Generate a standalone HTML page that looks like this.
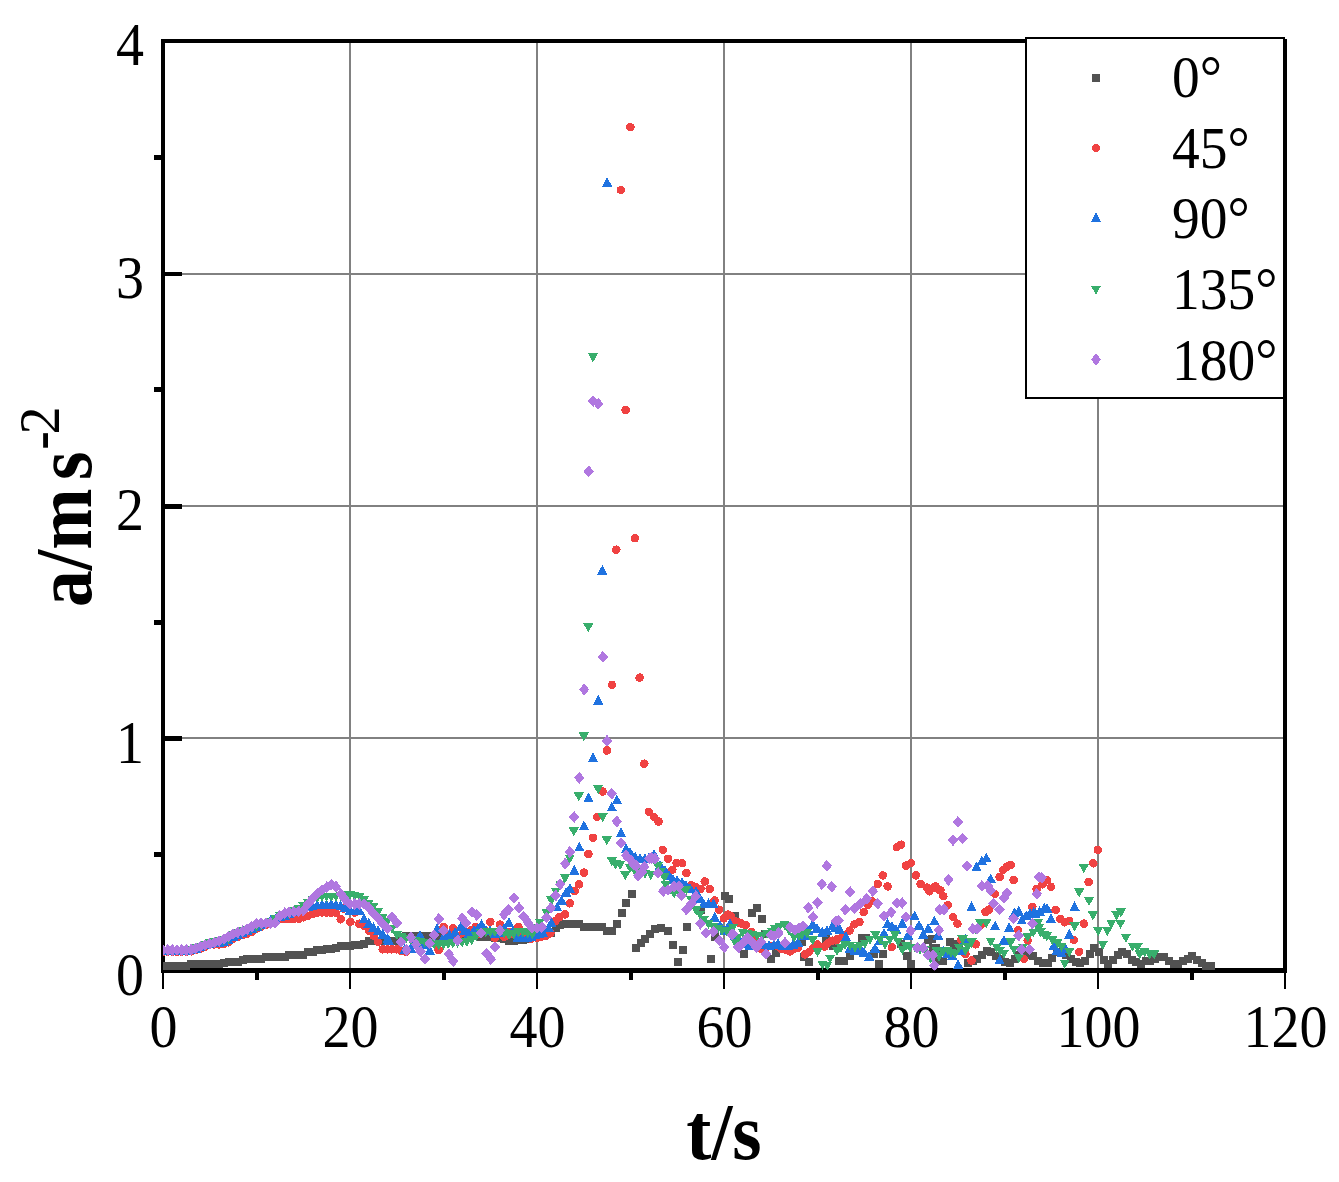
<!DOCTYPE html>
<html><head><meta charset="utf-8"><style>
html,body{margin:0;padding:0;background:#fff;}
svg{display:block;}
text{font-family:"Liberation Serif",serif;}
</style></head><body>
<svg width="1339" height="1182" viewBox="0 0 1339 1182">
<defs>
<rect id="sq" x="-4" y="-4" width="8" height="8" fill="#525252"/>
<circle id="ci" r="4.3" fill="#F04242"/>
<path id="tu" d="M0 -5.2 L5.2 4.5 L-5.2 4.5 Z" fill="#1F72E0"/>
<path id="td" d="M-5.2 -4.5 L5.2 -4.5 L0 4.7 Z" fill="#38AE6C"/>
<path id="di" d="M0 -5.8 L5.3 0 L0 5.8 L-5.3 0 Z" fill="#B077E0"/>
</defs>
<rect width="1339" height="1182" fill="#fff"/>
<g shape-rendering="crispEdges">
<rect x="349.0" y="41" width="2" height="930" fill="#818181"/>
<rect x="536.0" y="41" width="2" height="930" fill="#818181"/>
<rect x="723.0" y="41" width="2" height="930" fill="#818181"/>
<rect x="910.0" y="41" width="2" height="930" fill="#818181"/>
<rect x="1097.0" y="41" width="2" height="930" fill="#818181"/>
<rect x="163" y="273" width="1122" height="2" fill="#818181"/>
<rect x="163" y="505" width="1122" height="2" fill="#818181"/>
<rect x="163" y="737" width="1122" height="2" fill="#818181"/>
</g>
<g shape-rendering="crispEdges">
<rect x="162.2" y="973" width="1.6" height="16" fill="#000"/>
<rect x="349.2" y="973" width="1.6" height="16" fill="#000"/>
<rect x="536.2" y="973" width="1.6" height="16" fill="#000"/>
<rect x="723.2" y="973" width="1.6" height="16" fill="#000"/>
<rect x="910.2" y="973" width="1.6" height="16" fill="#000"/>
<rect x="1097.2" y="973" width="1.6" height="16" fill="#000"/>
<rect x="1284.2" y="973" width="1.6" height="16" fill="#000"/>
<rect x="254.5" y="973" width="4" height="7" fill="#000"/>
<rect x="441.5" y="973" width="4" height="7" fill="#000"/>
<rect x="628.5" y="973" width="4" height="7" fill="#000"/>
<rect x="815.5" y="973" width="4" height="7" fill="#000"/>
<rect x="1002.5" y="973" width="4" height="7" fill="#000"/>
<rect x="1189.5" y="973" width="4" height="7" fill="#000"/>
<rect x="165" y="272" width="17" height="4" fill="#000"/>
<rect x="165" y="504" width="17" height="5" fill="#000"/>
<rect x="165" y="736" width="17" height="5" fill="#000"/>
<rect x="154" y="852.4" width="7" height="4.8" fill="#000"/>
<rect x="154" y="619.9" width="7" height="4.8" fill="#000"/>
<rect x="154" y="387.4" width="7" height="4.8" fill="#000"/>
<rect x="154" y="154.8" width="7" height="4.8" fill="#000"/>
<rect x="161" y="39" width="4" height="934" fill="#000"/>
<rect x="161" y="968" width="1126" height="5" fill="#000"/>
<rect x="161" y="39" width="1126" height="4" fill="#000"/>
</g>
<clipPath id="pc"><rect x="163" y="41" width="1122" height="929.5"/></clipPath>
<g shape-rendering="crispEdges" clip-path="url(#pc)">
<use href="#sq" x="163.0" y="966.0"/><use href="#sq" x="167.7" y="966.0"/><use href="#sq" x="172.4" y="966.0"/><use href="#sq" x="177.0" y="966.0"/><use href="#sq" x="181.7" y="966.0"/><use href="#sq" x="186.4" y="965.9"/><use href="#sq" x="191.1" y="964.3"/><use href="#sq" x="195.7" y="964.0"/><use href="#sq" x="200.4" y="964.0"/><use href="#sq" x="205.1" y="964.0"/><use href="#sq" x="209.8" y="964.0"/><use href="#sq" x="214.4" y="964.0"/><use href="#sq" x="219.1" y="964.0"/><use href="#sq" x="223.8" y="962.6"/><use href="#sq" x="228.5" y="962.0"/><use href="#sq" x="233.1" y="962.0"/><use href="#sq" x="237.8" y="962.0"/><use href="#sq" x="242.5" y="960.1"/><use href="#sq" x="247.2" y="959.0"/><use href="#sq" x="251.8" y="959.0"/><use href="#sq" x="256.5" y="959.0"/><use href="#sq" x="261.2" y="959.0"/><use href="#sq" x="265.9" y="957.4"/><use href="#sq" x="270.5" y="957.4"/><use href="#sq" x="275.2" y="957.4"/><use href="#sq" x="279.9" y="957.4"/><use href="#sq" x="284.6" y="957.4"/><use href="#sq" x="289.2" y="954.5"/><use href="#sq" x="293.9" y="954.5"/><use href="#sq" x="298.6" y="954.5"/><use href="#sq" x="303.3" y="954.5"/><use href="#sq" x="307.9" y="952.0"/><use href="#sq" x="312.6" y="952.0"/><use href="#sq" x="317.3" y="949.9"/><use href="#sq" x="322.0" y="949.6"/><use href="#sq" x="326.6" y="949.4"/><use href="#sq" x="331.3" y="949.1"/><use href="#sq" x="336.0" y="947.7"/><use href="#sq" x="340.7" y="946.0"/><use href="#sq" x="345.3" y="945.8"/><use href="#sq" x="350.0" y="945.5"/><use href="#sq" x="354.7" y="945.3"/><use href="#sq" x="359.4" y="945.1"/><use href="#sq" x="364.0" y="944.0"/><use href="#sq" x="368.7" y="941.3"/><use href="#sq" x="373.4" y="940.5"/><use href="#sq" x="378.1" y="940.5"/><use href="#sq" x="382.7" y="940.5"/><use href="#sq" x="387.4" y="940.5"/><use href="#sq" x="392.1" y="940.5"/><use href="#sq" x="396.8" y="940.5"/><use href="#sq" x="401.4" y="940.0"/><use href="#sq" x="406.1" y="936.0"/><use href="#sq" x="410.8" y="935.9"/><use href="#sq" x="415.5" y="935.8"/><use href="#sq" x="420.1" y="935.7"/><use href="#sq" x="424.8" y="935.6"/><use href="#sq" x="429.5" y="935.5"/><use href="#sq" x="434.2" y="935.5"/><use href="#sq" x="438.8" y="935.6"/><use href="#sq" x="443.5" y="935.7"/><use href="#sq" x="448.2" y="935.7"/><use href="#sq" x="452.9" y="935.8"/><use href="#sq" x="457.5" y="935.8"/><use href="#sq" x="462.2" y="935.9"/><use href="#sq" x="466.9" y="936.0"/><use href="#sq" x="471.6" y="936.1"/><use href="#sq" x="476.2" y="936.4"/><use href="#sq" x="480.9" y="936.7"/><use href="#sq" x="485.6" y="937.0"/><use href="#sq" x="490.3" y="937.4"/><use href="#sq" x="494.9" y="937.7"/><use href="#sq" x="499.6" y="938.0"/><use href="#sq" x="504.3" y="939.3"/><use href="#sq" x="509.0" y="940.7"/><use href="#sq" x="513.6" y="940.6"/><use href="#sq" x="518.3" y="940.1"/><use href="#sq" x="523.0" y="939.6"/><use href="#sq" x="527.7" y="939.0"/><use href="#sq" x="532.3" y="936.9"/><use href="#sq" x="537.0" y="936.3"/><use href="#sq" x="541.7" y="935.6"/><use href="#sq" x="546.4" y="934.4"/><use href="#sq" x="551.0" y="933.2"/><use href="#sq" x="555.7" y="927.8"/><use href="#sq" x="560.4" y="925.2"/><use href="#sq" x="565.1" y="924.0"/><use href="#sq" x="569.7" y="924.0"/><use href="#sq" x="574.4" y="924.0"/><use href="#sq" x="579.1" y="924.0"/><use href="#sq" x="583.8" y="926.6"/><use href="#sq" x="588.4" y="927.0"/><use href="#sq" x="593.1" y="927.0"/><use href="#sq" x="597.8" y="927.0"/><use href="#sq" x="602.4" y="927.4"/><use href="#sq" x="607.1" y="931.0"/><use href="#sq" x="611.8" y="931.0"/><use href="#sq" x="968.0" y="962.7"/><use href="#sq" x="972.7" y="961.1"/><use href="#sq" x="977.3" y="958.8"/><use href="#sq" x="982.0" y="954.6"/><use href="#sq" x="986.7" y="951.0"/><use href="#sq" x="991.4" y="952.1"/><use href="#sq" x="996.0" y="955.8"/><use href="#sq" x="1000.7" y="959.4"/><use href="#sq" x="1005.4" y="962.2"/><use href="#sq" x="1010.1" y="963.2"/><use href="#sq" x="1014.7" y="958.7"/><use href="#sq" x="1019.4" y="954.5"/><use href="#sq" x="1024.1" y="954.5"/><use href="#sq" x="1028.8" y="954.5"/><use href="#sq" x="1033.4" y="956.0"/><use href="#sq" x="1038.1" y="960.8"/><use href="#sq" x="1042.8" y="962.7"/><use href="#sq" x="1047.5" y="962.7"/><use href="#sq" x="1052.1" y="957.8"/><use href="#sq" x="1056.8" y="952.4"/><use href="#sq" x="1061.5" y="952.2"/><use href="#sq" x="1066.2" y="954.8"/><use href="#sq" x="1070.8" y="958.5"/><use href="#sq" x="1075.5" y="962.3"/><use href="#sq" x="1080.2" y="962.7"/><use href="#sq" x="1084.9" y="961.3"/><use href="#sq" x="1089.5" y="953.6"/><use href="#sq" x="1094.2" y="948.2"/><use href="#sq" x="1098.9" y="952.2"/><use href="#sq" x="1103.6" y="960.2"/><use href="#sq" x="1108.2" y="963.6"/><use href="#sq" x="1112.9" y="959.9"/><use href="#sq" x="1117.6" y="954.8"/><use href="#sq" x="1122.3" y="951.7"/><use href="#sq" x="1126.9" y="954.1"/><use href="#sq" x="1131.6" y="959.6"/><use href="#sq" x="1136.3" y="961.8"/><use href="#sq" x="1141.0" y="963.7"/><use href="#sq" x="1145.6" y="961.4"/><use href="#sq" x="1150.3" y="961.0"/><use href="#sq" x="1155.0" y="959.0"/><use href="#sq" x="1159.7" y="957.0"/><use href="#sq" x="1164.3" y="957.0"/><use href="#sq" x="1169.0" y="960.6"/><use href="#sq" x="1173.7" y="964.0"/><use href="#sq" x="1178.4" y="964.0"/><use href="#sq" x="1183.0" y="961.4"/><use href="#sq" x="1187.7" y="959.0"/><use href="#sq" x="1192.4" y="956.0"/><use href="#sq" x="1197.1" y="959.8"/><use href="#sq" x="1201.7" y="963.0"/><use href="#sq" x="1206.4" y="966.0"/><use href="#sq" x="1211.1" y="966.0"/><use href="#sq" x="617.4" y="924.0"/><use href="#sq" x="622.0" y="913.0"/><use href="#sq" x="626.3" y="903.3"/><use href="#sq" x="631.5" y="893.7"/><use href="#sq" x="635.5" y="947.7"/><use href="#sq" x="641.0" y="943.4"/><use href="#sq" x="644.7" y="939.1"/><use href="#sq" x="649.6" y="934.2"/><use href="#sq" x="654.5" y="929.3"/><use href="#sq" x="660.7" y="928.1"/><use href="#sq" x="668.0" y="930.6"/><use href="#sq" x="672.9" y="944.7"/><use href="#sq" x="677.8" y="961.8"/><use href="#sq" x="682.7" y="949.6"/><use href="#sq" x="687.0" y="926.9"/><use href="#sq" x="701.1" y="909.7"/><use href="#sq" x="711.0" y="958.8"/><use href="#sq" x="714.6" y="936.7"/><use href="#sq" x="725.0" y="895.6"/><use href="#sq" x="729.3" y="898.7"/><use href="#sq" x="735.2" y="916.0"/><use href="#sq" x="743.6" y="954.4"/><use href="#sq" x="752.4" y="912.5"/><use href="#sq" x="757.2" y="907.7"/><use href="#sq" x="762.1" y="919.3"/><use href="#sq" x="765.0" y="934.0"/><use href="#sq" x="770.9" y="959.2"/><use href="#sq" x="776.2" y="953.4"/><use href="#sq" x="802.0" y="941.7"/><use href="#sq" x="803.9" y="957.3"/><use href="#sq" x="808.8" y="962.1"/><use href="#sq" x="826.3" y="938.8"/><use href="#sq" x="833.1" y="945.6"/><use href="#sq" x="839.0" y="961.2"/><use href="#sq" x="843.5" y="961.2"/><use href="#sq" x="849.6" y="956.3"/><use href="#sq" x="861.9" y="937.9"/><use href="#sq" x="865.6" y="937.9"/><use href="#sq" x="874.1" y="953.9"/><use href="#sq" x="882.7" y="953.9"/><use href="#sq" x="879.0" y="963.7"/><use href="#sq" x="901.1" y="944.0"/><use href="#sq" x="907.3" y="956.3"/><use href="#sq" x="910.9" y="963.7"/><use href="#sq" x="928.1" y="940.4"/><use href="#sq" x="935.5" y="947.7"/><use href="#sq" x="937.9" y="958.8"/><use href="#sq" x="931.5" y="939.2"/><use href="#sq" x="933.0" y="948.0"/><use href="#sq" x="943.3" y="961.4"/><use href="#sq" x="953.7" y="943.6"/><use href="#sq" x="950.0" y="942.0"/><use href="#sq" x="955.0" y="945.0"/><use href="#sq" x="959.0" y="947.0"/><use href="#sq" x="942.0" y="961.0"/>
<use href="#ci" x="163.0" y="951.6"/><use href="#ci" x="167.7" y="951.6"/><use href="#ci" x="172.4" y="951.6"/><use href="#ci" x="177.0" y="951.6"/><use href="#ci" x="181.7" y="951.6"/><use href="#ci" x="186.4" y="951.6"/><use href="#ci" x="191.1" y="951.3"/><use href="#ci" x="195.7" y="950.2"/><use href="#ci" x="200.4" y="948.6"/><use href="#ci" x="205.1" y="946.5"/><use href="#ci" x="209.8" y="944.5"/><use href="#ci" x="214.4" y="944.4"/><use href="#ci" x="219.1" y="944.4"/><use href="#ci" x="223.8" y="943.6"/><use href="#ci" x="228.5" y="942.2"/><use href="#ci" x="233.1" y="939.0"/><use href="#ci" x="237.8" y="936.6"/><use href="#ci" x="242.5" y="934.9"/><use href="#ci" x="247.2" y="933.6"/><use href="#ci" x="251.8" y="931.6"/><use href="#ci" x="256.5" y="928.6"/><use href="#ci" x="261.2" y="926.6"/><use href="#ci" x="265.9" y="924.6"/><use href="#ci" x="270.5" y="922.7"/><use href="#ci" x="275.2" y="920.8"/><use href="#ci" x="279.9" y="919.2"/><use href="#ci" x="284.6" y="919.1"/><use href="#ci" x="289.2" y="919.1"/><use href="#ci" x="293.9" y="919.0"/><use href="#ci" x="298.6" y="918.8"/><use href="#ci" x="303.3" y="917.3"/><use href="#ci" x="307.9" y="915.7"/><use href="#ci" x="312.6" y="914.2"/><use href="#ci" x="317.3" y="912.6"/><use href="#ci" x="322.0" y="912.5"/><use href="#ci" x="326.6" y="912.7"/><use href="#ci" x="331.3" y="912.8"/><use href="#ci" x="336.0" y="913.0"/><use href="#ci" x="340.7" y="919.3"/><use href="#ci" x="343.6" y="908.6"/><use href="#ci" x="350.4" y="921.8"/><use href="#ci" x="354.8" y="912.5"/><use href="#ci" x="359.2" y="923.7"/><use href="#ci" x="364.0" y="926.0"/><use href="#ci" x="369.0" y="931.0"/><use href="#ci" x="373.8" y="935.9"/><use href="#ci" x="378.0" y="942.0"/><use href="#ci" x="382.7" y="949.3"/><use href="#ci" x="387.5" y="949.3"/><use href="#ci" x="391.7" y="949.3"/><use href="#ci" x="396.9" y="949.3"/><use href="#ci" x="401.5" y="951.0"/><use href="#ci" x="406.0" y="952.0"/><use href="#ci" x="438.7" y="950.0"/><use href="#ci" x="443.6" y="927.1"/><use href="#ci" x="448.0" y="934.0"/><use href="#ci" x="452.9" y="928.1"/><use href="#ci" x="458.0" y="936.0"/><use href="#ci" x="463.0" y="932.5"/><use href="#ci" x="468.0" y="936.0"/><use href="#ci" x="471.0" y="930.0"/><use href="#ci" x="475.7" y="927.1"/><use href="#ci" x="480.0" y="934.0"/><use href="#ci" x="485.0" y="930.0"/><use href="#ci" x="490.3" y="921.8"/><use href="#ci" x="494.7" y="937.8"/><use href="#ci" x="500.0" y="924.7"/><use href="#ci" x="504.4" y="936.8"/><use href="#ci" x="509.0" y="932.0"/><use href="#ci" x="513.0" y="934.0"/><use href="#ci" x="518.5" y="927.1"/><use href="#ci" x="523.0" y="934.0"/><use href="#ci" x="527.0" y="936.0"/><use href="#ci" x="531.2" y="938.8"/><use href="#ci" x="537.0" y="937.8"/><use href="#ci" x="541.0" y="937.0"/><use href="#ci" x="546.0" y="936.0"/><use href="#ci" x="550.4" y="933.4"/><use href="#ci" x="555.3" y="921.3"/><use href="#ci" x="559.2" y="917.4"/><use href="#ci" x="565.0" y="914.5"/><use href="#ci" x="569.9" y="903.3"/><use href="#ci" x="574.7" y="891.1"/><use href="#ci" x="579.1" y="884.3"/><use href="#ci" x="584.0" y="872.6"/><use href="#ci" x="588.5" y="854.0"/><use href="#ci" x="593.0" y="837.8"/><use href="#ci" x="597.1" y="817.0"/><use href="#ci" x="602.7" y="791.6"/><use href="#ci" x="606.9" y="750.5"/><use href="#ci" x="612.0" y="684.9"/><use href="#ci" x="616.3" y="549.7"/><use href="#ci" x="620.9" y="190.0"/><use href="#ci" x="625.7" y="410.1"/><use href="#ci" x="630.4" y="127.2"/><use href="#ci" x="634.9" y="538.2"/><use href="#ci" x="639.6" y="677.6"/><use href="#ci" x="644.3" y="763.7"/><use href="#ci" x="648.9" y="811.9"/><use href="#ci" x="654.0" y="817.0"/><use href="#ci" x="658.5" y="821.5"/><use href="#ci" x="662.8" y="849.8"/><use href="#ci" x="668.0" y="858.8"/><use href="#ci" x="672.3" y="869.9"/><use href="#ci" x="676.6" y="863.1"/><use href="#ci" x="682.1" y="863.1"/><use href="#ci" x="686.4" y="872.9"/><use href="#ci" x="691.3" y="885.2"/><use href="#ci" x="695.5" y="887.0"/><use href="#ci" x="700.5" y="888.9"/><use href="#ci" x="704.8" y="881.5"/><use href="#ci" x="709.7" y="888.9"/><use href="#ci" x="714.6" y="900.5"/><use href="#ci" x="718.9" y="909.7"/><use href="#ci" x="723.8" y="918.3"/><use href="#ci" x="728.1" y="914.6"/><use href="#ci" x="731.0" y="916.4"/><use href="#ci" x="734.2" y="920.7"/><use href="#ci" x="737.8" y="922.3"/><use href="#ci" x="741.0" y="923.5"/><use href="#ci" x="745.6" y="925.2"/><use href="#ci" x="751.4" y="932.0"/><use href="#ci" x="756.0" y="940.0"/><use href="#ci" x="762.1" y="949.5"/><use href="#ci" x="767.0" y="947.0"/><use href="#ci" x="772.0" y="946.0"/><use href="#ci" x="776.7" y="945.6"/><use href="#ci" x="781.0" y="949.0"/><use href="#ci" x="786.0" y="950.0"/><use href="#ci" x="790.3" y="951.4"/><use href="#ci" x="794.0" y="949.0"/><use href="#ci" x="798.1" y="947.5"/><use href="#ci" x="804.9" y="954.4"/><use href="#ci" x="809.0" y="952.0"/><use href="#ci" x="813.0" y="948.0"/><use href="#ci" x="817.5" y="944.6"/><use href="#ci" x="824.4" y="946.6"/><use href="#ci" x="828.0" y="943.0"/><use href="#ci" x="832.1" y="940.7"/><use href="#ci" x="836.1" y="940.4"/><use href="#ci" x="838.0" y="938.8"/><use href="#ci" x="843.0" y="935.0"/><use href="#ci" x="849.6" y="930.6"/><use href="#ci" x="854.5" y="924.4"/><use href="#ci" x="859.4" y="922.0"/><use href="#ci" x="863.7" y="912.2"/><use href="#ci" x="868.0" y="905.0"/><use href="#ci" x="871.7" y="901.1"/><use href="#ci" x="877.8" y="884.0"/><use href="#ci" x="882.7" y="875.4"/><use href="#ci" x="887.6" y="886.4"/><use href="#ci" x="891.9" y="947.1"/><use href="#ci" x="896.8" y="847.2"/><use href="#ci" x="901.1" y="844.7"/><use href="#ci" x="906.0" y="865.6"/><use href="#ci" x="910.9" y="863.1"/><use href="#ci" x="915.8" y="875.4"/><use href="#ci" x="920.7" y="884.0"/><use href="#ci" x="926.9" y="887.6"/><use href="#ci" x="929.3" y="891.3"/><use href="#ci" x="934.4" y="887.3"/><use href="#ci" x="935.5" y="886.4"/><use href="#ci" x="939.1" y="890.1"/><use href="#ci" x="940.4" y="890.3"/><use href="#ci" x="943.3" y="896.2"/><use href="#ci" x="947.8" y="905.1"/><use href="#ci" x="953.0" y="917.0"/><use href="#ci" x="957.4" y="923.6"/><use href="#ci" x="961.0" y="940.0"/><use href="#ci" x="965.5" y="954.0"/><use href="#ci" x="971.5" y="960.6"/><use href="#ci" x="975.9" y="944.3"/><use href="#ci" x="981.0" y="925.0"/><use href="#ci" x="985.5" y="911.8"/><use href="#ci" x="989.2" y="909.5"/><use href="#ci" x="995.1" y="894.0"/><use href="#ci" x="999.6" y="877.0"/><use href="#ci" x="1003.0" y="870.0"/><use href="#ci" x="1007.0" y="866.6"/><use href="#ci" x="1010.7" y="865.1"/><use href="#ci" x="1013.6" y="879.9"/><use href="#ci" x="1018.0" y="930.0"/><use href="#ci" x="1024.0" y="959.1"/><use href="#ci" x="1027.7" y="940.6"/><use href="#ci" x="1032.3" y="906.9"/><use href="#ci" x="1036.6" y="889.0"/><use href="#ci" x="1042.5" y="884.2"/><use href="#ci" x="1047.0" y="880.3"/><use href="#ci" x="1051.0" y="886.9"/><use href="#ci" x="1055.6" y="909.8"/><use href="#ci" x="1060.2" y="919.0"/><use href="#ci" x="1064.7" y="922.3"/><use href="#ci" x="1069.3" y="921.0"/><use href="#ci" x="1073.9" y="940.0"/><use href="#ci" x="1079.2" y="951.8"/><use href="#ci" x="1083.8" y="923.6"/><use href="#ci" x="1088.6" y="881.9"/><use href="#ci" x="1093.3" y="863.3"/><use href="#ci" x="1097.8" y="849.9"/>
<use href="#tu" x="163.0" y="950.0"/><use href="#tu" x="167.7" y="950.0"/><use href="#tu" x="172.4" y="950.0"/><use href="#tu" x="177.0" y="950.0"/><use href="#tu" x="181.7" y="950.0"/><use href="#tu" x="186.4" y="950.0"/><use href="#tu" x="191.1" y="949.7"/><use href="#tu" x="195.7" y="948.2"/><use href="#tu" x="200.4" y="946.6"/><use href="#tu" x="205.1" y="944.8"/><use href="#tu" x="209.8" y="943.1"/><use href="#tu" x="214.4" y="942.6"/><use href="#tu" x="219.1" y="942.2"/><use href="#tu" x="223.8" y="941.2"/><use href="#tu" x="228.5" y="939.7"/><use href="#tu" x="233.1" y="936.3"/><use href="#tu" x="237.8" y="934.2"/><use href="#tu" x="242.5" y="932.8"/><use href="#tu" x="247.2" y="930.6"/><use href="#tu" x="251.8" y="928.4"/><use href="#tu" x="256.5" y="926.2"/><use href="#tu" x="261.2" y="924.3"/><use href="#tu" x="265.9" y="922.4"/><use href="#tu" x="270.5" y="920.5"/><use href="#tu" x="275.2" y="918.6"/><use href="#tu" x="279.9" y="916.7"/><use href="#tu" x="284.6" y="915.4"/><use href="#tu" x="289.2" y="913.6"/><use href="#tu" x="293.9" y="911.5"/><use href="#tu" x="298.6" y="909.6"/><use href="#tu" x="303.3" y="907.8"/><use href="#tu" x="307.9" y="906.7"/><use href="#tu" x="312.6" y="905.7"/><use href="#tu" x="317.3" y="904.7"/><use href="#tu" x="322.0" y="904.4"/><use href="#tu" x="326.6" y="904.2"/><use href="#tu" x="331.3" y="904.0"/><use href="#tu" x="336.0" y="904.5"/><use href="#tu" x="340.7" y="905.3"/><use href="#tu" x="345.3" y="907.7"/><use href="#tu" x="350.0" y="910.0"/><use href="#tu" x="354.7" y="910.0"/><use href="#tu" x="359.4" y="910.0"/><use href="#tu" x="364.0" y="918.4"/><use href="#tu" x="368.7" y="923.0"/><use href="#tu" x="373.4" y="927.1"/><use href="#tu" x="378.1" y="930.3"/><use href="#tu" x="382.7" y="934.1"/><use href="#tu" x="387.4" y="938.8"/><use href="#tu" x="388.7" y="940.0"/><use href="#tu" x="404.5" y="949.5"/><use href="#tu" x="410.5" y="948.0"/><use href="#tu" x="415.0" y="942.0"/><use href="#tu" x="420.0" y="935.0"/><use href="#tu" x="424.5" y="944.0"/><use href="#tu" x="429.7" y="950.0"/><use href="#tu" x="433.5" y="940.0"/><use href="#tu" x="437.2" y="928.4"/><use href="#tu" x="444.0" y="936.0"/><use href="#tu" x="449.5" y="934.0"/><use href="#tu" x="455.0" y="932.0"/><use href="#tu" x="461.0" y="926.0"/><use href="#tu" x="465.0" y="930.0"/><use href="#tu" x="469.0" y="933.0"/><use href="#tu" x="474.0" y="930.0"/><use href="#tu" x="478.0" y="928.0"/><use href="#tu" x="481.6" y="924.2"/><use href="#tu" x="486.0" y="930.0"/><use href="#tu" x="490.0" y="930.0"/><use href="#tu" x="495.0" y="933.0"/><use href="#tu" x="500.0" y="932.0"/><use href="#tu" x="504.0" y="928.0"/><use href="#tu" x="508.8" y="922.3"/><use href="#tu" x="513.0" y="930.0"/><use href="#tu" x="517.5" y="937.8"/><use href="#tu" x="522.0" y="937.8"/><use href="#tu" x="527.3" y="937.8"/><use href="#tu" x="531.0" y="936.0"/><use href="#tu" x="535.0" y="934.0"/><use href="#tu" x="538.5" y="933.0"/><use href="#tu" x="542.6" y="932.0"/><use href="#tu" x="548.5" y="927.1"/><use href="#tu" x="551.4" y="922.3"/><use href="#tu" x="557.2" y="906.7"/><use href="#tu" x="561.5" y="900.0"/><use href="#tu" x="566.0" y="892.1"/><use href="#tu" x="569.9" y="888.2"/><use href="#tu" x="574.3" y="870.0"/><use href="#tu" x="579.4" y="846.9"/><use href="#tu" x="583.9" y="825.6"/><use href="#tu" x="588.5" y="797.7"/><use href="#tu" x="593.0" y="757.6"/><use href="#tu" x="598.2" y="700.1"/><use href="#tu" x="602.4" y="570.2"/><use href="#tu" x="607.2" y="182.4"/><use href="#tu" x="611.8" y="806.8"/><use href="#tu" x="616.9" y="799.7"/><use href="#tu" x="621.0" y="832.7"/><use href="#tu" x="626.0" y="848.4"/><use href="#tu" x="630.0" y="852.0"/><use href="#tu" x="635.2" y="856.5"/><use href="#tu" x="640.0" y="858.0"/><use href="#tu" x="645.0" y="858.0"/><use href="#tu" x="649.0" y="857.0"/><use href="#tu" x="654.0" y="854.0"/><use href="#tu" x="660.0" y="865.0"/><use href="#tu" x="665.0" y="870.0"/><use href="#tu" x="669.0" y="875.0"/><use href="#tu" x="673.0" y="879.0"/><use href="#tu" x="677.0" y="880.0"/><use href="#tu" x="682.0" y="882.0"/><use href="#tu" x="686.0" y="885.0"/><use href="#tu" x="690.0" y="888.0"/><use href="#tu" x="696.2" y="891.3"/><use href="#tu" x="700.0" y="898.0"/><use href="#tu" x="703.6" y="903.6"/><use href="#tu" x="708.5" y="903.6"/><use href="#tu" x="713.4" y="903.6"/><use href="#tu" x="714.6" y="917.0"/><use href="#tu" x="720.0" y="925.0"/><use href="#tu" x="725.0" y="930.0"/><use href="#tu" x="730.0" y="923.2"/><use href="#tu" x="735.0" y="935.0"/><use href="#tu" x="740.0" y="940.0"/><use href="#tu" x="745.0" y="943.0"/><use href="#tu" x="749.5" y="945.6"/><use href="#tu" x="755.0" y="944.0"/><use href="#tu" x="760.0" y="943.0"/><use href="#tu" x="764.0" y="944.0"/><use href="#tu" x="769.0" y="945.6"/><use href="#tu" x="774.0" y="944.0"/><use href="#tu" x="778.0" y="943.0"/><use href="#tu" x="783.0" y="945.0"/><use href="#tu" x="788.4" y="945.6"/><use href="#tu" x="793.0" y="944.0"/><use href="#tu" x="798.0" y="942.0"/><use href="#tu" x="805.0" y="935.0"/><use href="#tu" x="808.0" y="930.0"/><use href="#tu" x="812.7" y="924.2"/><use href="#tu" x="817.0" y="928.0"/><use href="#tu" x="822.4" y="932.0"/><use href="#tu" x="827.0" y="930.0"/><use href="#tu" x="832.3" y="925.8"/><use href="#tu" x="836.0" y="927.0"/><use href="#tu" x="839.8" y="929.3"/><use href="#tu" x="846.0" y="936.7"/><use href="#tu" x="850.0" y="948.0"/><use href="#tu" x="855.0" y="950.0"/><use href="#tu" x="860.0" y="948.0"/><use href="#tu" x="864.0" y="952.0"/><use href="#tu" x="869.2" y="956.3"/><use href="#tu" x="875.0" y="948.0"/><use href="#tu" x="880.0" y="940.0"/><use href="#tu" x="884.0" y="933.0"/><use href="#tu" x="887.6" y="923.2"/><use href="#tu" x="892.0" y="926.0"/><use href="#tu" x="896.2" y="929.3"/><use href="#tu" x="902.3" y="923.2"/><use href="#tu" x="908.0" y="935.0"/><use href="#tu" x="914.6" y="915.8"/><use href="#tu" x="919.0" y="925.0"/><use href="#tu" x="923.2" y="934.2"/><use href="#tu" x="928.1" y="928.1"/><use href="#tu" x="934.3" y="920.7"/><use href="#tu" x="938.0" y="935.0"/><use href="#tu" x="943.3" y="951.0"/><use href="#tu" x="947.5" y="953.0"/><use href="#tu" x="952.2" y="955.4"/><use href="#tu" x="958.1" y="964.3"/><use href="#tu" x="961.0" y="950.0"/><use href="#tu" x="965.5" y="939.2"/><use href="#tu" x="971.5" y="906.6"/><use href="#tu" x="976.6" y="866.6"/><use href="#tu" x="981.8" y="860.7"/><use href="#tu" x="986.3" y="857.7"/><use href="#tu" x="990.7" y="878.5"/><use href="#tu" x="995.1" y="925.8"/><use href="#tu" x="999.6" y="959.9"/><use href="#tu" x="1004.0" y="940.0"/><use href="#tu" x="1009.2" y="927.3"/><use href="#tu" x="1014.4" y="912.5"/><use href="#tu" x="1018.8" y="911.0"/><use href="#tu" x="1021.8" y="919.9"/><use href="#tu" x="1026.2" y="915.5"/><use href="#tu" x="1030.0" y="913.0"/><use href="#tu" x="1033.6" y="912.5"/><use href="#tu" x="1035.2" y="913.1"/><use href="#tu" x="1039.5" y="911.0"/><use href="#tu" x="1044.4" y="907.8"/><use href="#tu" x="1047.0" y="908.0"/><use href="#tu" x="1051.0" y="918.3"/><use href="#tu" x="1053.6" y="945.9"/><use href="#tu" x="1057.0" y="950.0"/><use href="#tu" x="1061.5" y="952.4"/><use href="#tu" x="1065.4" y="948.5"/><use href="#tu" x="1069.3" y="934.1"/><use href="#tu" x="1074.6" y="906.5"/>
<use href="#td" x="163.0" y="951.3"/><use href="#td" x="167.7" y="951.3"/><use href="#td" x="172.4" y="951.3"/><use href="#td" x="177.0" y="951.3"/><use href="#td" x="181.7" y="951.3"/><use href="#td" x="186.4" y="951.3"/><use href="#td" x="191.1" y="950.9"/><use href="#td" x="195.7" y="948.9"/><use href="#td" x="200.4" y="947.0"/><use href="#td" x="205.1" y="945.1"/><use href="#td" x="209.8" y="943.1"/><use href="#td" x="214.4" y="942.4"/><use href="#td" x="219.1" y="941.8"/><use href="#td" x="223.8" y="940.7"/><use href="#td" x="228.5" y="939.1"/><use href="#td" x="233.1" y="935.5"/><use href="#td" x="237.8" y="933.2"/><use href="#td" x="242.5" y="931.8"/><use href="#td" x="247.2" y="930.3"/><use href="#td" x="251.8" y="928.7"/><use href="#td" x="256.5" y="927.2"/><use href="#td" x="261.2" y="925.6"/><use href="#td" x="265.9" y="924.0"/><use href="#td" x="270.5" y="922.1"/><use href="#td" x="275.2" y="919.1"/><use href="#td" x="279.9" y="916.5"/><use href="#td" x="284.6" y="915.4"/><use href="#td" x="289.2" y="914.2"/><use href="#td" x="293.9" y="911.9"/><use href="#td" x="298.6" y="909.3"/><use href="#td" x="303.3" y="906.5"/><use href="#td" x="307.9" y="903.5"/><use href="#td" x="312.6" y="900.2"/><use href="#td" x="317.3" y="898.1"/><use href="#td" x="322.0" y="897.1"/><use href="#td" x="326.6" y="897.0"/><use href="#td" x="331.3" y="897.0"/><use href="#td" x="336.0" y="897.0"/><use href="#td" x="340.7" y="896.3"/><use href="#td" x="345.3" y="895.4"/><use href="#td" x="350.0" y="895.4"/><use href="#td" x="354.7" y="896.2"/><use href="#td" x="359.4" y="897.1"/><use href="#td" x="364.0" y="900.6"/><use href="#td" x="368.7" y="904.1"/><use href="#td" x="373.4" y="907.2"/><use href="#td" x="378.1" y="912.3"/><use href="#td" x="382.7" y="918.2"/><use href="#td" x="387.4" y="922.3"/><use href="#td" x="392.1" y="929.0"/><use href="#td" x="396.8" y="935.2"/><use href="#td" x="401.4" y="937.7"/><use href="#td" x="406.1" y="939.0"/><use href="#td" x="410.8" y="940.2"/><use href="#td" x="415.5" y="941.1"/><use href="#td" x="420.1" y="942.0"/><use href="#td" x="424.8" y="943.0"/><use href="#td" x="429.5" y="943.9"/><use href="#td" x="434.2" y="944.8"/><use href="#td" x="438.8" y="945.5"/><use href="#td" x="443.5" y="944.9"/><use href="#td" x="448.2" y="944.2"/><use href="#td" x="452.9" y="943.7"/><use href="#td" x="457.5" y="943.2"/><use href="#td" x="462.2" y="942.8"/><use href="#td" x="466.9" y="942.3"/><use href="#td" x="471.6" y="940.6"/><use href="#td" x="476.2" y="936.4"/><use href="#td" x="480.9" y="933.0"/><use href="#td" x="485.6" y="932.7"/><use href="#td" x="490.3" y="932.5"/><use href="#td" x="494.9" y="932.3"/><use href="#td" x="499.6" y="932.0"/><use href="#td" x="504.3" y="933.7"/><use href="#td" x="509.0" y="935.6"/><use href="#td" x="513.6" y="934.5"/><use href="#td" x="518.3" y="932.7"/><use href="#td" x="523.0" y="932.7"/><use href="#td" x="527.7" y="933.8"/><use href="#td" x="532.3" y="934.9"/><use href="#td" x="537.0" y="928.0"/><use href="#td" x="539.7" y="923.2"/><use href="#td" x="546.5" y="913.5"/><use href="#td" x="551.4" y="900.9"/><use href="#td" x="556.0" y="892.0"/><use href="#td" x="560.5" y="885.0"/><use href="#td" x="565.0" y="878.5"/><use href="#td" x="569.7" y="859.1"/><use href="#td" x="573.8" y="831.7"/><use href="#td" x="578.8" y="796.7"/><use href="#td" x="583.8" y="736.8"/><use href="#td" x="588.3" y="627.7"/><use href="#td" x="593.0" y="357.7"/><use href="#td" x="598.1" y="789.6"/><use href="#td" x="602.7" y="817.5"/><use href="#td" x="606.8" y="840.8"/><use href="#td" x="611.8" y="861.6"/><use href="#td" x="615.6" y="864.9"/><use href="#td" x="620.2" y="865.2"/><use href="#td" x="625.3" y="875.6"/><use href="#td" x="630.1" y="868.5"/><use href="#td" x="635.0" y="872.0"/><use href="#td" x="640.0" y="872.0"/><use href="#td" x="645.0" y="874.0"/><use href="#td" x="650.8" y="875.4"/><use href="#td" x="657.8" y="866.8"/><use href="#td" x="661.0" y="872.0"/><use href="#td" x="664.3" y="877.8"/><use href="#td" x="665.6" y="885.2"/><use href="#td" x="670.0" y="890.0"/><use href="#td" x="674.1" y="893.8"/><use href="#td" x="679.0" y="893.0"/><use href="#td" x="683.0" y="891.0"/><use href="#td" x="686.4" y="890.1"/><use href="#td" x="691.0" y="900.0"/><use href="#td" x="696.2" y="910.9"/><use href="#td" x="700.0" y="915.0"/><use href="#td" x="704.0" y="920.0"/><use href="#td" x="708.5" y="924.4"/><use href="#td" x="713.0" y="927.0"/><use href="#td" x="718.0" y="929.0"/><use href="#td" x="722.0" y="931.0"/><use href="#td" x="726.9" y="931.8"/><use href="#td" x="733.0" y="928.0"/><use href="#td" x="735.4" y="943.3"/><use href="#td" x="738.0" y="938.0"/><use href="#td" x="742.6" y="933.0"/><use href="#td" x="747.0" y="934.0"/><use href="#td" x="752.0" y="935.0"/><use href="#td" x="757.0" y="936.0"/><use href="#td" x="762.0" y="936.8"/><use href="#td" x="767.0" y="934.0"/><use href="#td" x="771.8" y="932.0"/><use href="#td" x="775.0" y="929.0"/><use href="#td" x="779.6" y="927.1"/><use href="#td" x="784.5" y="925.2"/><use href="#td" x="789.0" y="931.0"/><use href="#td" x="794.2" y="937.8"/><use href="#td" x="799.0" y="936.0"/><use href="#td" x="802.0" y="935.0"/><use href="#td" x="806.8" y="933.9"/><use href="#td" x="812.7" y="940.7"/><use href="#td" x="817.5" y="952.4"/><use href="#td" x="822.4" y="965.1"/><use href="#td" x="827.3" y="966.0"/><use href="#td" x="830.1" y="959.0"/><use href="#td" x="837.0" y="951.4"/><use href="#td" x="841.0" y="948.0"/><use href="#td" x="845.0" y="945.0"/><use href="#td" x="850.0" y="946.0"/><use href="#td" x="855.0" y="948.0"/><use href="#td" x="860.0" y="946.0"/><use href="#td" x="865.0" y="944.0"/><use href="#td" x="870.0" y="940.0"/><use href="#td" x="875.4" y="935.5"/><use href="#td" x="880.0" y="940.0"/><use href="#td" x="885.0" y="945.0"/><use href="#td" x="890.0" y="940.0"/><use href="#td" x="895.0" y="935.5"/><use href="#td" x="898.0" y="942.0"/><use href="#td" x="902.3" y="950.2"/><use href="#td" x="906.0" y="946.5"/><use href="#td" x="910.0" y="948.0"/><use href="#td" x="915.0" y="948.0"/><use href="#td" x="920.0" y="950.0"/><use href="#td" x="925.0" y="950.0"/><use href="#td" x="930.6" y="958.8"/><use href="#td" x="936.7" y="951.4"/><use href="#td" x="938.9" y="956.9"/><use href="#td" x="943.0" y="952.0"/><use href="#td" x="947.8" y="951.0"/><use href="#td" x="951.0" y="953.0"/><use href="#td" x="955.2" y="954.0"/><use href="#td" x="959.0" y="948.0"/><use href="#td" x="962.6" y="939.9"/><use href="#td" x="965.5" y="951.0"/><use href="#td" x="968.0" y="947.0"/><use href="#td" x="971.5" y="942.9"/><use href="#td" x="976.0" y="930.0"/><use href="#td" x="980.3" y="923.6"/><use href="#td" x="986.3" y="923.6"/><use href="#td" x="990.7" y="942.1"/><use href="#td" x="996.6" y="948.0"/><use href="#td" x="1000.0" y="951.0"/><use href="#td" x="1004.0" y="954.0"/><use href="#td" x="1010.7" y="942.9"/><use href="#td" x="1014.0" y="950.0"/><use href="#td" x="1018.8" y="958.4"/><use href="#td" x="1023.0" y="948.0"/><use href="#td" x="1027.7" y="937.7"/><use href="#td" x="1033.2" y="933.0"/><use href="#td" x="1037.9" y="923.6"/><use href="#td" x="1038.8" y="928.8"/><use href="#td" x="1040.5" y="932.8"/><use href="#td" x="1044.0" y="935.0"/><use href="#td" x="1047.0" y="936.7"/><use href="#td" x="1052.3" y="940.6"/><use href="#td" x="1057.5" y="943.2"/><use href="#td" x="1061.5" y="947.2"/><use href="#td" x="1064.7" y="964.2"/><use href="#td" x="1069.3" y="952.4"/><use href="#td" x="1074.6" y="926.9"/><use href="#td" x="1079.2" y="892.8"/><use href="#td" x="1083.8" y="868.5"/><use href="#td" x="1089.0" y="901.3"/><use href="#td" x="1092.9" y="915.7"/><use href="#td" x="1098.2" y="931.4"/><use href="#td" x="1102.8" y="945.2"/><use href="#td" x="1107.4" y="931.4"/><use href="#td" x="1111.3" y="924.2"/><use href="#td" x="1116.5" y="915.7"/><use href="#td" x="1120.5" y="924.2"/><use href="#td" x="1120.8" y="912.9"/><use href="#td" x="1125.9" y="938.2"/><use href="#td" x="1132.7" y="947.0"/><use href="#td" x="1137.5" y="947.8"/><use href="#td" x="1139.7" y="954.8"/><use href="#td" x="1144.7" y="952.3"/><use href="#td" x="1149.6" y="954.8"/><use href="#td" x="1154.1" y="954.8"/>
<use href="#di" x="163.0" y="950.0"/><use href="#di" x="167.7" y="950.0"/><use href="#di" x="172.4" y="950.0"/><use href="#di" x="177.0" y="950.0"/><use href="#di" x="181.7" y="950.0"/><use href="#di" x="186.4" y="950.0"/><use href="#di" x="191.1" y="949.6"/><use href="#di" x="195.7" y="948.1"/><use href="#di" x="200.4" y="946.5"/><use href="#di" x="205.1" y="945.0"/><use href="#di" x="209.8" y="943.7"/><use href="#di" x="214.4" y="942.5"/><use href="#di" x="219.1" y="941.2"/><use href="#di" x="223.8" y="939.0"/><use href="#di" x="228.5" y="936.5"/><use href="#di" x="233.1" y="934.0"/><use href="#di" x="237.8" y="932.5"/><use href="#di" x="242.5" y="931.3"/><use href="#di" x="247.2" y="929.2"/><use href="#di" x="251.8" y="926.6"/><use href="#di" x="256.5" y="923.5"/><use href="#di" x="261.2" y="923.4"/><use href="#di" x="265.9" y="923.2"/><use href="#di" x="270.5" y="923.1"/><use href="#di" x="275.2" y="922.7"/><use href="#di" x="279.9" y="915.7"/><use href="#di" x="284.6" y="913.2"/><use href="#di" x="289.2" y="912.2"/><use href="#di" x="293.9" y="911.7"/><use href="#di" x="298.6" y="911.3"/><use href="#di" x="303.3" y="910.6"/><use href="#di" x="307.9" y="904.1"/><use href="#di" x="312.6" y="898.8"/><use href="#di" x="317.3" y="893.9"/><use href="#di" x="322.0" y="890.0"/><use href="#di" x="326.6" y="887.2"/><use href="#di" x="331.3" y="884.6"/><use href="#di" x="336.0" y="886.6"/><use href="#di" x="340.7" y="894.0"/><use href="#di" x="345.3" y="899.7"/><use href="#di" x="350.0" y="904.0"/><use href="#di" x="354.7" y="904.0"/><use href="#di" x="359.4" y="904.0"/><use href="#di" x="364.0" y="904.0"/><use href="#di" x="368.7" y="907.4"/><use href="#di" x="373.4" y="913.4"/><use href="#di" x="378.1" y="918.4"/><use href="#di" x="382.7" y="923.5"/><use href="#di" x="387.4" y="928.3"/><use href="#di" x="392.0" y="917.0"/><use href="#di" x="397.0" y="923.0"/><use href="#di" x="401.0" y="942.0"/><use href="#di" x="406.5" y="950.0"/><use href="#di" x="411.0" y="937.5"/><use href="#di" x="416.0" y="944.5"/><use href="#di" x="420.8" y="951.5"/><use href="#di" x="424.9" y="959.0"/><use href="#di" x="429.7" y="943.3"/><use href="#di" x="434.2" y="935.1"/><use href="#di" x="438.7" y="919.0"/><use href="#di" x="443.6" y="930.5"/><use href="#di" x="449.0" y="954.4"/><use href="#di" x="453.3" y="961.2"/><use href="#di" x="457.7" y="940.3"/><use href="#di" x="462.1" y="918.4"/><use href="#di" x="466.0" y="923.2"/><use href="#di" x="471.8" y="912.0"/><use href="#di" x="476.7" y="915.0"/><use href="#di" x="481.0" y="933.0"/><use href="#di" x="486.4" y="953.4"/><use href="#di" x="490.8" y="959.2"/><use href="#di" x="495.2" y="947.0"/><use href="#di" x="500.0" y="930.5"/><use href="#di" x="504.0" y="914.5"/><use href="#di" x="508.8" y="909.6"/><use href="#di" x="514.1" y="898.0"/><use href="#di" x="519.0" y="907.7"/><use href="#di" x="523.4" y="916.4"/><use href="#di" x="527.8" y="922.3"/><use href="#di" x="532.1" y="928.1"/><use href="#di" x="537.0" y="928.1"/><use href="#di" x="541.7" y="927.1"/><use href="#di" x="546.5" y="917.4"/><use href="#di" x="550.9" y="907.7"/><use href="#di" x="555.8" y="895.5"/><use href="#di" x="560.2" y="884.3"/><use href="#di" x="565.1" y="863.6"/><use href="#di" x="569.7" y="852.0"/><use href="#di" x="574.3" y="817.0"/><use href="#di" x="579.4" y="777.9"/><use href="#di" x="584.1" y="689.5"/><use href="#di" x="588.8" y="471.4"/><use href="#di" x="593.1" y="401.2"/><use href="#di" x="598.2" y="403.7"/><use href="#di" x="602.9" y="656.8"/><use href="#di" x="607.0" y="740.7"/><use href="#di" x="611.8" y="793.6"/><use href="#di" x="616.9" y="821.5"/><use href="#di" x="621.0" y="842.8"/><use href="#di" x="626.0" y="855.5"/><use href="#di" x="631.0" y="860.5"/><use href="#di" x="633.7" y="864.3"/><use href="#di" x="636.2" y="865.7"/><use href="#di" x="638.0" y="875.6"/><use href="#di" x="642.3" y="871.7"/><use href="#di" x="644.3" y="866.7"/><use href="#di" x="649.4" y="858.6"/><use href="#di" x="651.5" y="858.2"/><use href="#di" x="655.0" y="858.6"/><use href="#di" x="658.2" y="872.9"/><use href="#di" x="663.1" y="891.3"/><use href="#di" x="668.0" y="890.1"/><use href="#di" x="674.1" y="886.4"/><use href="#di" x="679.0" y="886.4"/><use href="#di" x="681.5" y="895.6"/><use href="#di" x="686.4" y="909.7"/><use href="#di" x="691.3" y="903.6"/><use href="#di" x="695.6" y="896.2"/><use href="#di" x="700.5" y="923.8"/><use href="#di" x="706.0" y="933.0"/><use href="#di" x="713.4" y="931.8"/><use href="#di" x="719.5" y="940.4"/><use href="#di" x="724.4" y="947.1"/><use href="#di" x="731.8" y="934.8"/><use href="#di" x="732.9" y="934.0"/><use href="#di" x="737.9" y="947.1"/><use href="#di" x="738.8" y="947.5"/><use href="#di" x="743.0" y="943.0"/><use href="#di" x="747.5" y="937.8"/><use href="#di" x="752.0" y="942.0"/><use href="#di" x="756.3" y="947.5"/><use href="#di" x="761.1" y="941.7"/><use href="#di" x="766.0" y="953.9"/><use href="#di" x="770.9" y="934.9"/><use href="#di" x="774.0" y="936.0"/><use href="#di" x="778.6" y="933.0"/><use href="#di" x="785.0" y="942.7"/><use href="#di" x="790.3" y="927.1"/><use href="#di" x="795.2" y="930.0"/><use href="#di" x="799.0" y="928.0"/><use href="#di" x="803.0" y="926.1"/><use href="#di" x="808.3" y="907.7"/><use href="#di" x="813.2" y="916.9"/><use href="#di" x="817.5" y="902.8"/><use href="#di" x="821.9" y="884.3"/><use href="#di" x="826.8" y="865.8"/><use href="#di" x="831.7" y="886.8"/><use href="#di" x="836.0" y="921.3"/><use href="#di" x="838.6" y="920.7"/><use href="#di" x="845.3" y="909.7"/><use href="#di" x="850.2" y="891.9"/><use href="#di" x="854.5" y="908.5"/><use href="#di" x="860.7" y="903.6"/><use href="#di" x="866.8" y="898.7"/><use href="#di" x="872.9" y="891.3"/><use href="#di" x="877.8" y="903.6"/><use href="#di" x="884.0" y="915.8"/><use href="#di" x="891.3" y="912.2"/><use href="#di" x="896.8" y="903.0"/><use href="#di" x="902.3" y="903.0"/><use href="#di" x="906.0" y="917.1"/><use href="#di" x="910.9" y="930.6"/><use href="#di" x="917.1" y="947.7"/><use href="#di" x="923.2" y="947.7"/><use href="#di" x="928.1" y="955.1"/><use href="#di" x="933.0" y="955.4"/><use href="#di" x="934.3" y="965.3"/><use href="#di" x="939.0" y="930.4"/><use href="#di" x="939.7" y="909.7"/><use href="#di" x="944.1" y="909.5"/><use href="#di" x="948.5" y="879.9"/><use href="#di" x="953.0" y="840.3"/><use href="#di" x="957.8" y="821.9"/><use href="#di" x="962.3" y="838.5"/><use href="#di" x="967.0" y="865.9"/><use href="#di" x="972.9" y="928.8"/><use href="#di" x="977.4" y="928.8"/><use href="#di" x="981.8" y="885.9"/><use href="#di" x="987.7" y="885.9"/><use href="#di" x="990.7" y="890.3"/><use href="#di" x="993.7" y="903.6"/><use href="#di" x="999.6" y="909.5"/><use href="#di" x="1004.0" y="897.7"/><use href="#di" x="1007.0" y="893.3"/><use href="#di" x="1013.6" y="918.4"/><use href="#di" x="1018.8" y="935.5"/><use href="#di" x="1021.8" y="949.5"/><use href="#di" x="1029.5" y="949.6"/><use href="#di" x="1032.3" y="923.6"/><use href="#di" x="1036.9" y="893.7"/><use href="#di" x="1038.8" y="877.0"/><use href="#di" x="1041.8" y="877.7"/>
</g>

<rect x="1026" y="38" width="258" height="360" fill="#fff" stroke="#000" stroke-width="2"/>
<g shape-rendering="crispEdges">
<use href="#sq" x="1096" y="78"/>
<use href="#ci" x="1096" y="148"/>
<use href="#tu" x="1096" y="217.5"/>
<use href="#td" x="1096" y="290"/>
<use href="#di" x="1096" y="359.5"/>
</g>
<text transform="translate(1172.0,97.0) scale(0.925,1)" font-size="60" text-anchor="start">0°</text>
<text transform="translate(1172.0,168.0) scale(0.925,1)" font-size="60" text-anchor="start">45°</text>
<text transform="translate(1172.0,238.3) scale(0.925,1)" font-size="60" text-anchor="start">90°</text>
<text transform="translate(1172.0,309.0) scale(0.925,1)" font-size="60" text-anchor="start">135°</text>
<text transform="translate(1172.0,379.5) scale(0.925,1)" font-size="60" text-anchor="start">180°</text>

<g shape-rendering="crispEdges">
<rect x="1283" y="39" width="4" height="934" fill="#000"/>
</g>
<g fill="#000">
<text transform="translate(163.5,1047.0) scale(0.91,1)" font-size="61.5" text-anchor="middle">0</text>
<text transform="translate(350.5,1047.0) scale(0.91,1)" font-size="61.5" text-anchor="middle">20</text>
<text transform="translate(537.5,1047.0) scale(0.91,1)" font-size="61.5" text-anchor="middle">40</text>
<text transform="translate(724.5,1047.0) scale(0.91,1)" font-size="61.5" text-anchor="middle">60</text>
<text transform="translate(911.5,1047.0) scale(0.91,1)" font-size="61.5" text-anchor="middle">80</text>
<text transform="translate(1098.5,1047.0) scale(0.91,1)" font-size="61.5" text-anchor="middle">100</text>
<text transform="translate(1285.5,1047.0) scale(0.91,1)" font-size="61.5" text-anchor="middle">120</text>
<text transform="translate(144.0,995.2) scale(0.91,1)" font-size="61.5" text-anchor="end">0</text>
<text transform="translate(144.0,762.7) scale(0.91,1)" font-size="61.5" text-anchor="end">1</text>
<text transform="translate(144.0,530.2) scale(0.91,1)" font-size="61.5" text-anchor="end">2</text>
<text transform="translate(144.0,297.7) scale(0.91,1)" font-size="61.5" text-anchor="end">3</text>
<text transform="translate(144.0,65.2) scale(0.91,1)" font-size="61.5" text-anchor="end">4</text>
</g>
<text transform="translate(724,1158.5) scale(0.93,1)" font-size="81" font-weight="bold" text-anchor="middle">t/s</text>
<g font-weight="bold">
<text transform="translate(90.5,607) rotate(-90) scale(0.92,1)" font-size="80">a/m</text>
<text transform="translate(90.5,480) rotate(-90) scale(0.92,1)" font-size="80">s</text>
<text transform="translate(59,449.7) rotate(-90)" font-size="56">-</text>
<text transform="translate(59,434.4) rotate(-90)" font-size="56" font-weight="normal">2</text>
</g>
</svg>
</body></html>
